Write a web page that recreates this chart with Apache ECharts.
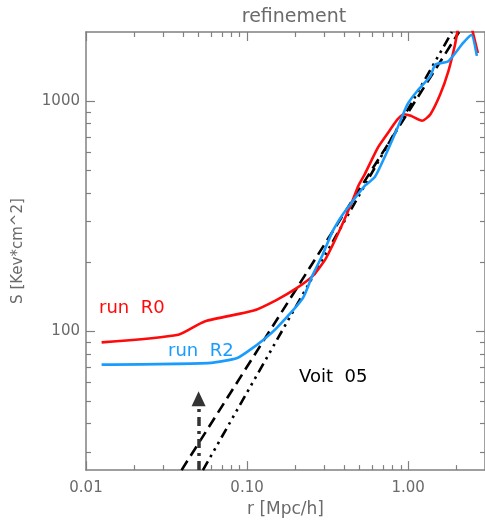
<!DOCTYPE html>
<html>
<head>
<meta charset="utf-8">
<script src="https://cdn.jsdelivr.net/npm/echarts@6/dist/echarts.min.js"></script>
<style>
html,body{margin:0;padding:0;background:#fff;}
#c{width:485px;height:523px;}
</style>
</head>
<body>
<div id="c"></div>
<script>
// ---- data ----
var titleText = 'refinement';
var xName = 'r [Mpc/h]';
var yName = 'S [Kev*cm^2]';

var xMin = 0.01, xMax = 3;
var yMin = 25, yMax = 2000;

var xMajorTicks = [0.01, 0.1, 1];
var xMinorTicks = [0.02,0.03,0.04,0.05,0.06,0.07,0.08,0.09,0.2,0.3,0.4,0.5,0.6,0.7,0.8,0.9,2];
var yMajorTicks = [100, 1000];
var yMinorTicks = [30,40,50,60,70,80,90,200,300,400,500,600,700,800,900];

// run R0 (red)
var r0X = [0.0125,0.0374,0.0545,0.110,0.152,0.202,0.255,0.308,0.371,0.447,0.491,0.539,0.650,0.766,0.861,0.945,1.039,1.222,1.375,1.582,1.778,1.954,2.046,2.25,2.45,2.59,2.71];
var r0Y = [89.7,96.8,110.6,123.3,137,153.9,174,207.4,270.4,364.2,429.7,484,631,745,836,879,865,823,879,1072,1353,1762,2080,2500,2150,1846,1622];

// run R2 (blue)
var r2X = [0.0125,0.0597,0.0869,0.1047,0.1265,0.1524,0.2217,0.255,0.2936,0.3379,0.3888,0.4473,0.539,0.621,0.714,0.861,0.990,1.139,1.375,1.475,1.778,2.195,2.466,2.67];
var r2Y = [71.8,73.1,76.8,83.4,92.1,103.4,139.4,175.7,214.3,270.4,319,364.2,429.7,468.6,571.5,770,970.7,1109,1287,1444,1494,1792,1941,1575];

// Voit 05 power laws
var dashX = [0.0392, 2.07];
var dashY = [25, 2000];
var dotX = [0.0532, 1.87];
var dotY = [25, 2000];

// arrow
var arrowX = [0.05, 0.05];
var arrowY = [25, 51];

var labelR0 = 'run  R0';
var labelR2 = 'run  R2';
var labelVoit = 'Voit  05';

function pairs(xs, ys){ return xs.map(function(x,i){ return [x, ys[i]]; }); }
function lg(arr){ return arr.map(function(v){ return Math.log10(v); }); }

var axisColor = '#808080';
var textColor = '#6a6a6a';
var font = 'DejaVu Sans';

function helperX(pos, ticks, len, showLine, showLabel, extra){
  var a = {
    type:'value', gridIndex:0, position:pos,
    min:Math.log10(xMin), max:Math.log10(xMax),
    axisLine:{show:showLine, onZero:false, lineStyle:{color:axisColor, width:1.5}},
    axisTick:{show:true, inside:true, length:len, customValues:lg(ticks), lineStyle:{color:axisColor, width:1.2}},
    axisLabel:{show:showLabel, customValues:lg(ticks), color:textColor, fontFamily:font, fontSize:15, margin:11,
      formatter:function(v){ var i = lg(xMajorTicks).findIndex(function(t){return Math.abs(t-v)<1e-6;}); return i>=0 ? xMajorTicks[i].toFixed(2) : ''; }},
    splitLine:{show:false}
  };
  if (extra) Object.assign(a, extra);
  return a;
}
function helperY(pos, ticks, len, showLine, showLabel, extra){
  var a = {
    type:'value', gridIndex:0, position:pos,
    min:Math.log10(yMin), max:Math.log10(yMax),
    axisLine:{show:showLine, onZero:false, lineStyle:{color:axisColor, width:1.5}},
    axisTick:{show:true, inside:true, length:len, customValues:lg(ticks), lineStyle:{color:axisColor, width:1.2}},
    axisLabel:{show:showLabel, customValues:lg(ticks), color:textColor, fontFamily:font, fontSize:15, margin:6,
      formatter:function(v){ var i = lg(yMajorTicks).findIndex(function(t){return Math.abs(t-v)<1e-6;}); return i>=0 ? String(yMajorTicks[i]) : ''; }},
    splitLine:{show:false}
  };
  if (extra) Object.assign(a, extra);
  return a;
}

var chart = echarts.init(document.getElementById('c'), null, {renderer:'canvas'});
var option = {
  animation:false,
  backgroundColor:'#fff',
  title:{text:titleText, left:289, top:3, textAlign:'center',
    textStyle:{color:textColor, fontFamily:font, fontSize:19, fontWeight:'normal'}},
  grid:{left:86, top:32, width:406, height:441, containLabel:false},
  xAxis:[
    {type:'log', logBase:10, min:xMin, max:xMax, show:false, axisLine:{onZero:false}},
    helperX('bottom', xMajorTicks, 9, true, true, {name:xName, nameLocation:'middle', nameGap:16,
      nameTextStyle:{color:textColor, fontFamily:font, fontSize:17}}),
    helperX('bottom', xMinorTicks, 5, false, false),
    helperX('top', xMajorTicks, 9, true, false),
    helperX('top', xMinorTicks, 5, false, false)
  ],
  yAxis:[
    {type:'log', logBase:10, min:yMin, max:yMax, show:false, axisLine:{onZero:false}},
    helperY('left', yMajorTicks, 9, true, true, {name:yName, nameLocation:'middle', nameGap:60, nameRotate:90,
      nameTextStyle:{color:textColor, fontFamily:font, fontSize:15}}),
    helperY('left', yMinorTicks, 5, false, false),
    helperY('right', yMajorTicks, 9, true, false),
    helperY('right', yMinorTicks, 5, false, false)
  ],
  series:[
    {type:'line', name:'dash', xAxisIndex:0, yAxisIndex:0, data:pairs(dashX, dashY), symbol:'none',
      lineStyle:{color:'#000', width:2.6, type:[11,6]}, z:2},
    {type:'line', name:'dashdot', xAxisIndex:0, yAxisIndex:0, data:pairs(dotX, dotY), symbol:'none',
      lineStyle:{color:'#000', width:2.6, type:[10,5,2.5,5,2.5,5,2.5,5]}, z:2},
    {type:'line', name:'R0', xAxisIndex:0, yAxisIndex:0, data:pairs(r0X, r0Y), symbol:'none', smooth:0.2,
      lineStyle:{color:'#ff0a0a', width:2.6}, z:3},
    {type:'line', name:'R2', xAxisIndex:0, yAxisIndex:0, data:pairs(r2X, r2Y), symbol:'none', smooth:0.2,
      lineStyle:{color:'#1a9cff', width:2.6}, z:4},
    {type:'line', name:'arrow', xAxisIndex:0, yAxisIndex:0, data:[], symbol:'none',
      markLine:{silent:true, symbol:['none','triangle'], symbolSize:[14,15], label:{show:false},
        lineStyle:{color:'#333', width:3.5, type:[9,5,3,5]},
        data:[[{coord:[arrowX[0], arrowY[0]]},{coord:[arrowX[1], arrowY[1]]}]]}}
  ],
  graphic:[
    {type:'text', left:99, top:299, style:{text:labelR0, fill:'#ff0a0a', font:'18px "DejaVu Sans"'}},
    {type:'text', left:168, top:342, style:{text:labelR2, fill:'#1a9cff', font:'18px "DejaVu Sans"'}},
    {type:'text', left:299, top:368, style:{text:labelVoit, fill:'#000', font:'18px "DejaVu Sans"'}}
  ]
};
chart.setOption(option);
</script>
</body>
</html>
